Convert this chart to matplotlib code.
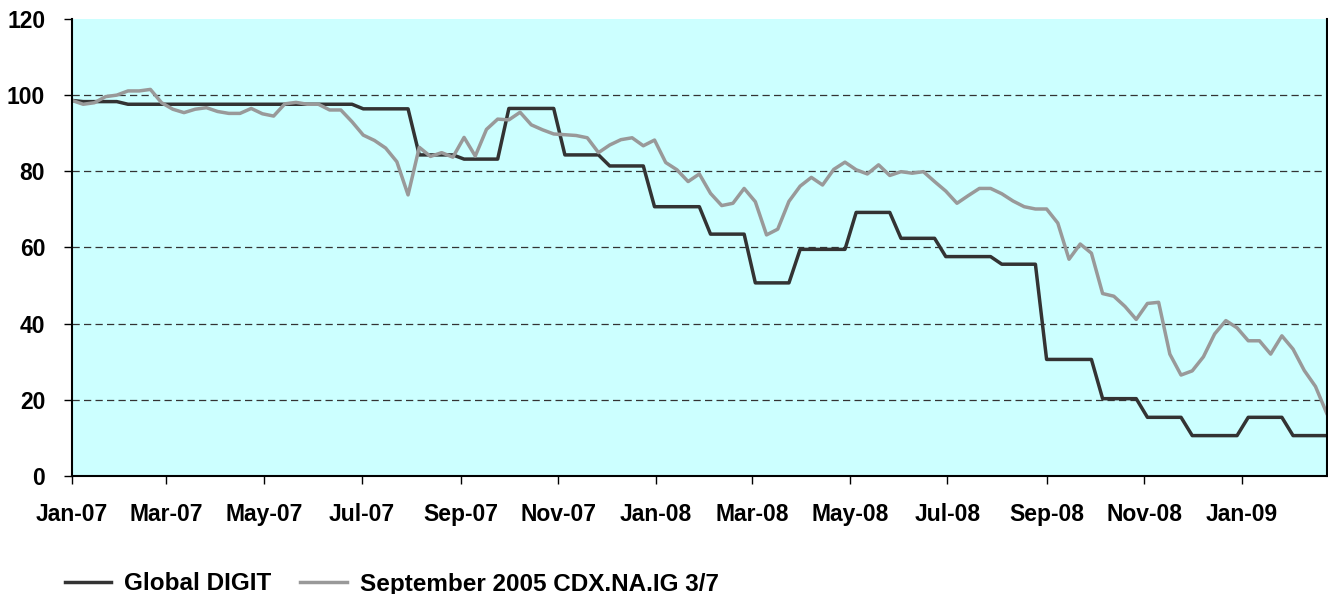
import numpy as np
import pandas as pd
import matplotlib
matplotlib.use("Agg")
import matplotlib.pyplot as plt
import matplotlib.dates as mdates

# ------------------------------------------------------------------
# Data (weekly)
# ------------------------------------------------------------------
dates = pd.date_range("2007-01-01", periods=113, freq="7D")

global_digit = [
    98.6, 98.3, 98.3, 98.3, 98.3, 97.6, 97.6, 97.6, 97.6, 97.6,
    97.6, 97.6, 97.6, 97.6, 97.6, 97.6, 97.6, 97.6, 97.6, 97.6,
    97.6, 97.6, 97.6, 97.6, 97.6, 97.6, 96.4, 96.4, 96.4, 96.4,
    96.4, 84.3, 84.3, 84.3, 84.3, 83.2, 83.2, 83.2, 83.2, 96.5,
    96.5, 96.5, 96.5, 96.5, 84.3, 84.3, 84.3, 84.3, 81.4, 81.4,
    81.4, 81.4, 70.7, 70.7, 70.7, 70.7, 70.7, 63.5, 63.5, 63.5,
    63.5, 50.7, 50.7, 50.7, 50.7, 59.5, 59.5, 59.5, 59.5, 59.5,
    69.2, 69.2, 69.2, 69.2, 62.4, 62.4, 62.4, 62.4, 57.6, 57.6,
    57.6, 57.6, 57.6, 55.6, 55.6, 55.6, 55.6, 30.6, 30.6, 30.6,
    30.6, 30.6, 20.3, 20.3, 20.3, 20.3, 15.4, 15.4, 15.4, 15.4,
    10.6, 10.6, 10.6, 10.6, 10.6, 15.4, 15.4, 15.4, 15.4, 10.6,
    10.6, 10.6, 10.6,
]

cdx_ig = [
    98.6, 97.6, 98.0, 99.6, 100.0, 101.1, 101.1, 101.5, 98.0, 96.3,
    95.4, 96.3, 96.7, 95.7, 95.2, 95.2, 96.5, 95.1, 94.5, 97.7,
    98.1, 97.6, 97.6, 96.1, 96.1, 93.0, 89.5, 88.1, 86.1, 82.5,
    73.8, 86.3, 83.9, 84.9, 83.7, 88.9, 84.0, 91.0, 93.7, 93.5,
    95.5, 92.2, 90.9, 89.8, 89.6, 89.4, 88.8, 84.9, 86.9, 88.3,
    88.8, 86.7, 88.2, 82.3, 80.4, 77.3, 79.3, 74.2, 71.0, 71.6,
    75.5, 72.0, 63.3, 64.8, 72.1, 76.1, 78.4, 76.4, 80.5, 82.4,
    80.4, 79.3, 81.7, 78.9, 79.9, 79.5, 79.9, 77.3, 74.8, 71.6,
    73.6, 75.5, 75.5, 74.1, 72.2, 70.7, 70.1, 70.1, 66.4, 56.9,
    60.9, 58.5, 47.9, 47.2, 44.5, 41.1, 45.3, 45.6, 32.0, 26.5,
    27.6, 31.3, 37.3, 40.8, 38.9, 35.5, 35.5, 32.0, 36.8, 33.3,
    27.7, 23.5, 16.5,
]

labels = ["Global DIGIT", "September 2005 CDX.NA.IG 3/7"]
y_ticks = [0, 20, 40, 60, 80, 100, 120]

# ------------------------------------------------------------------
# Plot
# ------------------------------------------------------------------
plt.rcParams["font.family"] = ["Liberation Sans", "DejaVu Sans"]
plt.rcParams["font.weight"] = "bold"
FS = 16.5
FS_LEG = 17.5

fig = plt.figure(figsize=(13.28, 5.94), dpi=100)
ax = fig.add_axes([0.0542, 0.1987, 0.9448, 0.7694])
ax.set_facecolor("#CCFFFF")

ax.plot(dates, global_digit, color="#333333", lw=2.5, label=labels[0])
ax.plot(dates, cdx_ig, color="#999999", lw=2.5, label=labels[1])

ax.set_ylim(0, 120)
ax.set_yticks(y_ticks)
ax.set_xlim(dates[0], dates[-1])
ax.xaxis.set_major_locator(mdates.MonthLocator(bymonth=[1, 3, 5, 7, 9, 11]))
ax.xaxis.set_major_formatter(mdates.DateFormatter("%b-%y"))

# dashed gridlines
for y in y_ticks[1:-1]:
    ax.axhline(y, color="#333333", lw=0.9, ls=(0, (5.8, 3.4)), zorder=0.5)

for side in ["left", "bottom", "right"]:
    ax.spines[side].set_color("black")
    ax.spines[side].set_linewidth(1.5)
ax.spines["top"].set_visible(False)

ax.tick_params(axis="both", direction="out", length=5.8, width=1,
               labelsize=FS, colors="black", pad=13.5)
for lbl in ax.get_xticklabels() + ax.get_yticklabels():
    lbl.set_fontweight("bold")

fig.legend(loc="center left", bbox_to_anchor=(65 / 1328, 1 - 584 / 594),
           ncol=2, frameon=False, borderpad=0, borderaxespad=0,
           handlelength=1.9, handletextpad=0.53, columnspacing=1.2,
           prop={"weight": "bold", "size": FS_LEG})

fig.savefig("out.png", dpi=100)
